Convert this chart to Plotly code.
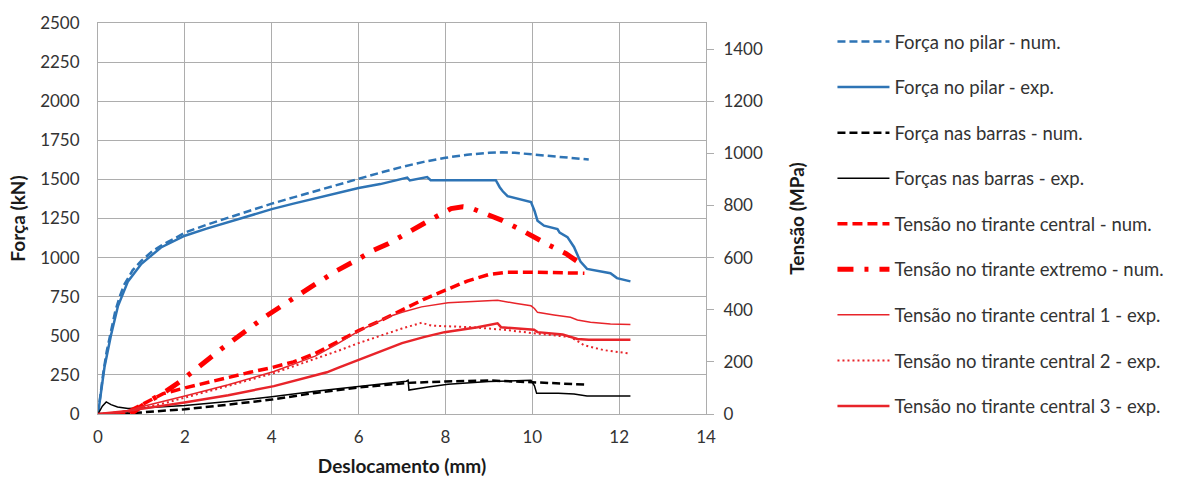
import plotly.graph_objects as go

# Força no pilar - numérico (kN)
pilar_num_x = [0, 0.05, 0.12, 0.2, 0.3, 0.4, 0.5, 0.6, 0.8, 1.0, 1.25, 1.5, 1.75, 2.0, 2.5, 3.0, 3.5, 4.0,
               4.5, 5.0, 5.5, 6.0, 6.5, 7.0, 7.5, 8.0, 8.5, 9.0, 9.3, 9.6, 10.0, 10.5, 11.0, 11.3]
pilar_num_y = [0, 120, 260, 400, 540, 660, 750, 825, 920, 980, 1040, 1085, 1120, 1160, 1210, 1255, 1300, 1345,
               1385, 1425, 1465, 1505, 1543, 1580, 1612, 1638, 1658, 1670, 1673, 1670, 1660, 1647, 1635, 1627]

# Força no pilar - experimental (kN)
pilar_exp_x = [0, 0.05, 0.15, 0.3, 0.46, 0.69, 1.0, 1.45, 2.0, 2.5, 3.0, 3.5, 4.0, 4.5, 5.0, 5.5, 6.0, 6.5,
               6.8, 7.05, 7.12, 7.18, 7.5, 7.58, 7.66, 9.16, 9.25, 9.32, 9.43, 9.74, 9.97, 10.05, 10.12, 10.27,
               10.58, 10.63, 10.81, 10.96, 11.11, 11.26, 11.8, 11.95, 12.26]
pilar_exp_y = [0, 100, 300, 505, 690, 848, 960, 1065, 1140, 1185, 1228, 1270, 1310, 1345, 1378, 1412, 1445, 1470,
               1490, 1510, 1512, 1493, 1510, 1515, 1495, 1495, 1450, 1424, 1393, 1371, 1355, 1300, 1236, 1204,
               1183, 1160, 1131, 1068, 974, 928, 900, 869, 848]

# Força nas barras - numérico (kN)
barras_num_x = [0, 0.5, 1.0, 2.0, 3.0, 4.0, 5.0, 6.0, 7.14, 8.0, 9.05, 9.97, 10.5, 11.26]
barras_num_y = [0, 0, 10, 31, 60, 92, 135, 170, 199, 208, 214, 205, 196, 188]

# Forças nas barras - experimental (kN)
barras_exp_x = [0, 0.1, 0.19, 0.3, 0.45, 0.69, 1.0, 1.5, 2.0, 3.0, 4.0, 5.0, 6.0, 7.1, 7.14, 7.16, 7.6, 8.06,
                9.0, 9.5, 9.97, 10.05, 10.1, 10.6, 10.96, 11.26, 12.26]
barras_exp_y = [0, 50, 77, 60, 45, 35, 38, 45, 55, 80, 110, 145, 175, 210, 216, 153, 172, 190,
                208, 212, 215, 180, 132, 132, 128, 115, 115]

# Tensão no tirante central - numérico (MPa)
central_num_x = [0.4, 0.7, 1.0, 1.5, 2.0, 2.5, 3.0, 3.5, 4.0, 4.5, 5.0, 5.5, 6.0, 6.5, 7.0, 7.5, 8.0, 8.5,
                 9.0, 9.4, 10.1, 10.6, 11.2]
central_num_y = [0, 10, 35, 78, 100, 120, 142, 160, 178, 200, 232, 275, 320, 358, 398, 440, 475, 510,
                 535, 544, 544, 541, 540]

# Tensão no tirante extremo - numérico (MPa)
extremo_num_x = [0.75, 1.07, 1.57, 1.87, 2.83, 3.83, 4.87, 5.5, 5.96, 6.34, 6.68, 7.03, 7.41, 7.75, 8.13,
                 8.4, 8.56, 8.9, 9.29, 9.7, 10.04, 10.39, 10.77, 11.1]
extremo_num_y = [0, 38, 88, 122, 248, 371, 484, 550, 591, 628, 653, 687, 723, 754, 788,
                 795, 792, 770, 744, 710, 678, 647, 616, 578]

# Tensão no tirante central 1 - experimental (MPa)
central1_x = [0, 0.5, 1.07, 1.5, 2.0, 3.0, 4.05, 5.0, 5.5, 6.0, 6.68, 7.0, 7.45, 8.06, 8.6, 9.2, 9.6, 9.97,
              10.05, 10.12, 10.5, 10.88, 11.04, 11.34, 11.8, 12.26]
central1_y = [0, 5, 31, 48, 69, 112, 163, 222, 268, 318, 372, 390, 411, 427, 432, 436, 425, 415,
              405, 390, 380, 371, 361, 352, 345, 343]

# Tensão no tirante central 2 - experimental (MPa)
central2_x = [0, 0.7, 1.45, 2.0, 2.98, 4.05, 5.27, 5.54, 6.0, 6.68, 7.0, 7.45, 7.55, 7.68, 8.59, 9.36, 10.12,
              10.5, 10.88, 11.04, 11.19, 11.65, 12.26]
central2_y = [0, 10, 38, 62, 107, 157, 226, 243, 272, 312, 328, 350, 345, 339, 333, 323, 308,
              302, 295, 280, 264, 245, 232]

# Tensão no tirante central 3 - experimental (MPa)
central3_x = [0, 0.69, 1.99, 3.0, 4.05, 5.27, 5.54, 6.0, 6.45, 6.8, 7.0, 7.5, 7.98, 8.74, 9.13, 9.2, 9.28,
              9.6, 10.04, 10.12, 10.58, 10.7, 11.04, 11.3, 12.26]
central3_y = [0, 12, 44, 72, 107, 160, 178, 208, 236, 260, 272, 295, 314, 333, 346, 348, 333,
              330, 323, 314, 308, 305, 288, 285, 285]

BLUE = "#2E74B5"
RED = "#FF0000"
RED_EXP = "#E8242A"
BLACK = "#000000"
GRID = "#ADADAD"
TEXT = "#333333"
FONT = "Lato"

series = [
    ("Força no pilar - num.", pilar_num_x, pilar_num_y, "y", BLUE, 2.5, "8px,4px"),
    ("Força no pilar - exp.", pilar_exp_x, pilar_exp_y, "y", BLUE, 2.5, "solid"),
    ("Força nas barras - num.", barras_num_x, barras_num_y, "y", BLACK, 2.5, "8px,4px"),
    ("Forças nas barras - exp.", barras_exp_x, barras_exp_y, "y", BLACK, 1.5, "solid"),
    ("Tensão no tirante central - num.", central_num_x, central_num_y, "y2", RED, 3.5, "10px,5px"),
    ("Tensão no tirante extremo - num.", extremo_num_x, extremo_num_y, "y2", RED, 5, "16px,11px,4px,11px"),
    ("Tensão no tirante central 1 - exp.", central1_x, central1_y, "y2", RED_EXP, 1.5, "solid"),
    ("Tensão no tirante central 2 - exp.", central2_x, central2_y, "y2", RED_EXP, 2, "2px,3px"),
    ("Tensão no tirante central 3 - exp.", central3_x, central3_y, "y2", RED_EXP, 2.5, "solid"),
]

fig = go.Figure()
for i, (name, xs, ys, ax, color, width, dash) in enumerate(series):
    fig.add_trace(go.Scatter(
        x=xs, y=ys, yaxis=ax, name=name, mode="lines",
        line=dict(color=color, width=width, dash=dash),
        legendgroup=f"g{i}", showlegend=True,
    ))

title_font = dict(family=FONT, size=19, color="#1a1a1a")

fig.update_layout(
    width=1182, height=486,
    margin=dict(l=98, r=472, t=17, b=71),
    paper_bgcolor="white", plot_bgcolor="white",
    font=dict(family=FONT, size=17, color=TEXT),
    showlegend=True,
    legend=dict(
        x=1.208, xanchor="left", y=1.0, yanchor="top",
        font=dict(family=FONT, size=18.5, color=TEXT),
        tracegroupgap=18.5, itemwidth=52, bgcolor="rgba(0,0,0,0)",
        maxheight=480,
    ),
    xaxis=dict(
        range=[0, 14], dtick=2, tick0=0,
        showgrid=True, gridcolor=GRID, gridwidth=1,
        showline=True, linecolor=GRID, mirror=True,
        zeroline=False, ticks="outside", ticklen=8, tickcolor="rgba(0,0,0,0)",
        title=dict(text="<b>Deslocamento (mm)</b>", font=title_font, standoff=13),
    ),
    yaxis=dict(
        range=[0, 2500], dtick=250, tick0=0,
        showgrid=True, gridcolor=GRID, gridwidth=1,
        showline=True, linecolor=GRID, mirror=True,
        zeroline=False, ticks="outside", ticklen=14, tickcolor="rgba(0,0,0,0)",
        title=dict(text="<b>Força (kN)</b>", font=title_font, standoff=9),
    ),
    yaxis2=dict(
        range=[0, 1500], dtick=200, tick0=0, overlaying="y", side="right",
        showgrid=False, zeroline=False, showline=False,
        ticks="outside", ticklen=7, tickcolor=GRID, ticklabelstandoff=6,
        title=dict(text="<b>Tensão (MPa)</b>", font=title_font, standoff=28),
    ),
)

fig.write_html("out.html")
